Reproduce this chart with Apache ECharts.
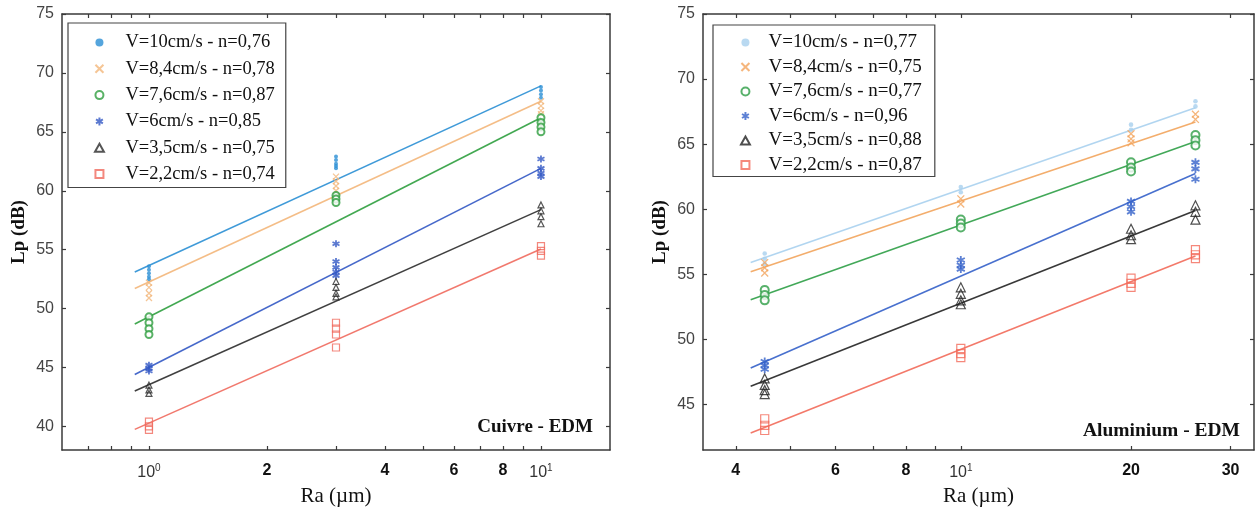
<!DOCTYPE html>
<html><head><meta charset="utf-8">
<script src="https://cdn.jsdelivr.net/npm/echarts@6/dist/echarts.min.js"></script>
<style>html,body{margin:0;padding:0;background:#fff}#c{width:1258px;height:511px}</style>
</head><body><div id="c"></div><script>
// ---------- Panel 1 : Cuivre - EDM ----------
const cuRa = [1, 3, 10];
const cuNames = ['V=10cm/s - n=0,76','V=8,4cm/s - n=0,78','V=7,6cm/s - n=0,87','V=6cm/s - n=0,85','V=3,5cm/s - n=0,75','V=2,2cm/s - n=0,74'];
const cuV10  = [[53.6,53.3,53.0,52.7,52.5],[62.9,62.6,62.3,62.1,61.9],[68.8,68.5,68.2,67.9]];
const cuV84  = [[52.2,51.8,51.3,50.9],[61.2,60.8,60.4,60.0],[67.6,67.2,66.8,66.5]];
const cuV76  = [[49.3,48.8,48.3,47.8],[59.6,59.3,59.0],[66.2,65.8,65.4,65.0]];
const cuV6   = [[45.2,44.9,44.7],[55.5,54.0,53.5,53.1,52.8],[62.7,61.9,61.5,61.2]];
const cuV35  = [[43.5,43.1,42.8],[52.3,51.8,51.3,51.0],[58.8,58.3,57.8,57.2]];
const cuV22  = [[40.4,40.0,39.7],[48.8,48.3,47.8,46.7],[55.3,54.9,54.5]];
const cuFitRa = [0.92, 10];
const cuFit10 = [53.1, 68.9];
const cuFit84 = [51.7, 67.6];
const cuFit76 = [48.7, 66.2];
const cuFit6  = [44.4, 61.9];
const cuFit35 = [43.0, 58.4];
const cuFit22 = [39.75, 55.05];
const cuXRange = [0.6, 15];
const cuYRange = [38, 75];
const cuXTicks = [0.7,0.8,0.9,1,2,3,4,5,6,7,8,9,10];
const cuXLabels = [1,2,4,6,8,10];
const cuYTicks = [40,45,50,55,60,65,70,75];

// ---------- Panel 2 : Aluminium - EDM ----------
const alRa = [4.5, 10, 20, 26];
const alNames = ['V=10cm/s - n=0,77','V=8,4cm/s - n=0,75','V=7,6cm/s - n=0,77','V=6cm/s - n=0,96','V=3,5cm/s - n=0,88','V=2,2cm/s - n=0,87'];
const alV10 = [[56.6,56.2,55.8],[61.7,61.3],[66.5,66.1],[68.3,67.9]];
const alV84 = [[55.9,55.5,55.1],[60.8,60.4],[65.8,65.4,65.1],[67.3,66.9]];
const alV76 = [[53.8,53.4,53.0],[59.2,58.9,58.6],[63.6,63.2,62.9],[65.7,65.3,64.9]];
const alV6  = [[48.3,48.0,47.7],[56.1,55.7,55.4],[60.6,60.2,59.8],[63.6,63.1,62.3]];
const alV35 = [[47.0,46.5,46.1,45.8],[54.0,53.5,53.0,52.7],[58.5,58.0,57.7],[60.3,59.8,59.2]];
const alV22 = [[43.9,43.4,43.0],[49.3,48.9,48.6],[54.7,54.3,54.0],[56.9,56.5,56.2]];
const alFitRa = [4.25, 26];
const alFit10 = [55.9, 67.8];
const alFit84 = [55.2, 66.7];
const alFit76 = [53.05, 65.2];
const alFit6  = [47.8, 62.75];
const alFit35 = [46.4, 59.9];
const alFit22 = [42.8, 56.4];
const alXRange = [3.5, 33];
const alYRange = [41.5, 75];
const alXTicks = [4,5,6,7,8,9,10,20,30];
const alXLabels = [4,6,8,10,20,30];
const alYTicks = [45,50,55,60,65,70,75];

// ---------- styles ----------
const cuColors = ['#2a8fd4','#f3b67a','#2e9e3e','#3258c4','#2b2b2b','#f06a5e'];
const alColors = ['#a8d0ee','#f2a45c','#2e9e46','#3461c9','#222222','#f26a5a'];
const XPATH = 'path://M0,0L10,10M10,0L0,10';
const STAR = 'path://M5,0L5,10M0.7,2.5L9.3,7.5M0.7,7.5L9.3,2.5';
const TRI = 'path://M5,0L10,9L0,9Z';
const SQR = 'path://M0,0L10,0L10,10L0,10Z';
const NONE = 'rgba(0,0,0,0)';

const L = Math.log10;
function pts(ra, vals){ const out=[]; ra.forEach((r,i)=>vals[i].forEach(v=>out.push([L(r),v]))); return out; }
function fit(ra, ys){ return ra.map((r,i)=>[L(r), ys[i]]); }

function markerStyle(k, c, big){
  const s = big ? 1.15 : 1;
  switch(k){
    case 0: return {symbol:'circle', symbolSize:4*s, itemStyle:{color:c}};
    case 1: return {symbol:XPATH, symbolSize:6*s, itemStyle:{color:NONE, borderColor:c, borderWidth:1.3}};
    case 2: return {symbol:'emptyCircle', symbolSize:7*s, itemStyle:{color:c, borderWidth:1.2}};
    case 3: return {symbol:STAR, symbolSize:7*s, itemStyle:{color:NONE, borderColor:c, borderWidth:1.8}};
    case 4: return {symbol:TRI, symbolSize:(big?9:6), itemStyle:{color:NONE, borderColor:c, borderWidth:1.2}};
    default: return {symbol:SQR, symbolSize:7*s, itemStyle:{color:NONE, borderColor:c, borderWidth:1.2}};
  }
}

function buildSeries(names, colors, ra, vals, fitRa, fits, gi, big){
  const out=[];
  names.forEach((n,k)=>{
    out.push({type:'line', name:'fit'+gi+'_'+k, xAxisIndex:gi*2, yAxisIndex:gi*2, data:fit(fitRa, fits[k]),
      showSymbol:false, silent:true, lineStyle:{color:colors[k], width:1.6, opacity:0.9}, z:2});
  });
  names.forEach((n,k)=>{
    out.push(Object.assign({type:'scatter', name:n, xAxisIndex:gi*2, yAxisIndex:gi*2, data:pts(ra, vals[k]), z:3}, markerStyle(k, colors[k], big)));
  });
  return out;
}

const fmtX = v => { const r = Math.round(Math.pow(10,v)*100)/100; if (r===1) return '{n|10}{s|0}'; if (r===10) return '{n|10}{s|1}'; return '{b|'+r+'}'; };
const axCol = '#3a3a3a';
function xAxes(gi, range, ticks, labels){
  const common = {gridIndex:gi, type:'value', min:L(range[0]), max:L(range[1]), splitLine:{show:false},
    axisLine:{show:true, onZero:false, lineStyle:{color:axCol, width:1.5}},
    axisTick:{show:true, inside:true, length:4, customValues:ticks.map(L), lineStyle:{color:axCol, width:1.2}}};
  return [
    Object.assign({}, common, {position:'bottom', name:'Ra (µm)', nameLocation:'middle', nameGap:36,
      nameTextStyle:{fontFamily:'Liberation Serif', fontSize:21, color:'#111'},
      axisLabel:{show:true, customValues:labels.map(L), margin:13, formatter:fmtX,
        rich:{b:{fontFamily:'Liberation Sans', fontWeight:'bold', fontSize:16, color:'#111'},
              n:{fontFamily:'Liberation Sans', fontSize:16, color:'#333'},
              s:{fontFamily:'Liberation Sans', fontSize:10, color:'#333', padding:[0,0,10,0]}}}}),
    Object.assign({}, common, {position:'top', axisLabel:{show:false}})
  ];
}
function yAxes(gi, range, ticks){
  const common = {gridIndex:gi, type:'value', min:range[0], max:range[1], splitLine:{show:false},
    axisLine:{show:true, onZero:false, lineStyle:{color:axCol, width:1.5}},
    axisTick:{show:true, inside:true, length:4, customValues:ticks, lineStyle:{color:axCol, width:1.2}}};
  return [
    Object.assign({}, common, {position:'left', name:'Lp (dB)', nameLocation:'middle', nameGap:33, nameRotate:90,
      nameTextStyle:{fontFamily:'Liberation Serif', fontWeight:'bold', fontSize:19, color:'#111'},
      axisLabel:{show:true, customValues:ticks, margin:8, fontFamily:'Liberation Sans', fontSize:16, color:'#444'}}),
    Object.assign({}, common, {position:'right', axisLabel:{show:false}})
  ];
}

const legendBase = {orient:'vertical', backgroundColor:'#fff', borderColor:'#444', borderWidth:1.2, itemHeight:8};

const option = {
  animation:false,
  backgroundColor:'#fff',
  grid:[{left:62, top:14, width:548, height:436, outerBoundsMode:'none', containLabel:false},
        {left:703, top:14, width:551, height:436, outerBoundsMode:'none', containLabel:false}],
  xAxis:[...xAxes(0, cuXRange, cuXTicks, cuXLabels), ...xAxes(1, alXRange, alXTicks, alXLabels)],
  yAxis:[...yAxes(0, cuYRange, cuYTicks), ...yAxes(1, alYRange, alYTicks)],
  legend:[
    Object.assign({}, legendBase, {data:cuNames, left:68, top:23, itemWidth:42, itemGap:7.3, padding:[10,11,4,26],
      textStyle:{fontFamily:'Liberation Serif', fontSize:18.5, color:'#111', lineHeight:19}}),
    Object.assign({}, legendBase, {data:alNames, left:713, top:25, itemWidth:36, itemGap:5.5, padding:[8,13,2,27],
      textStyle:{fontFamily:'Liberation Serif', fontSize:19, color:'#111', lineHeight:19}})
  ],
  title:[
    {text:'Cuivre - EDM', right:1258-593, top:418, padding:0, textStyle:{fontFamily:'Liberation Serif', fontWeight:'bold', fontSize:19, color:'#111'}},
    {text:'Aluminium - EDM', right:1258-1240, top:421, padding:0, textStyle:{fontFamily:'Liberation Serif', fontWeight:'bold', fontSize:19.5, color:'#111'}}
  ],
  series:[
    ...buildSeries(cuNames, cuColors, cuRa, [cuV10,cuV84,cuV76,cuV6,cuV35,cuV22], cuFitRa, [cuFit10,cuFit84,cuFit76,cuFit6,cuFit35,cuFit22], 0, false),
    ...buildSeries(alNames, alColors, alRa, [alV10,alV84,alV76,alV6,alV35,alV22], alFitRa, [alFit10,alFit84,alFit76,alFit6,alFit35,alFit22], 1, true)
  ]
};
const chart = echarts.init(document.getElementById('c'), null, {renderer:'canvas'});
chart.setOption(option);
</script></body></html>
